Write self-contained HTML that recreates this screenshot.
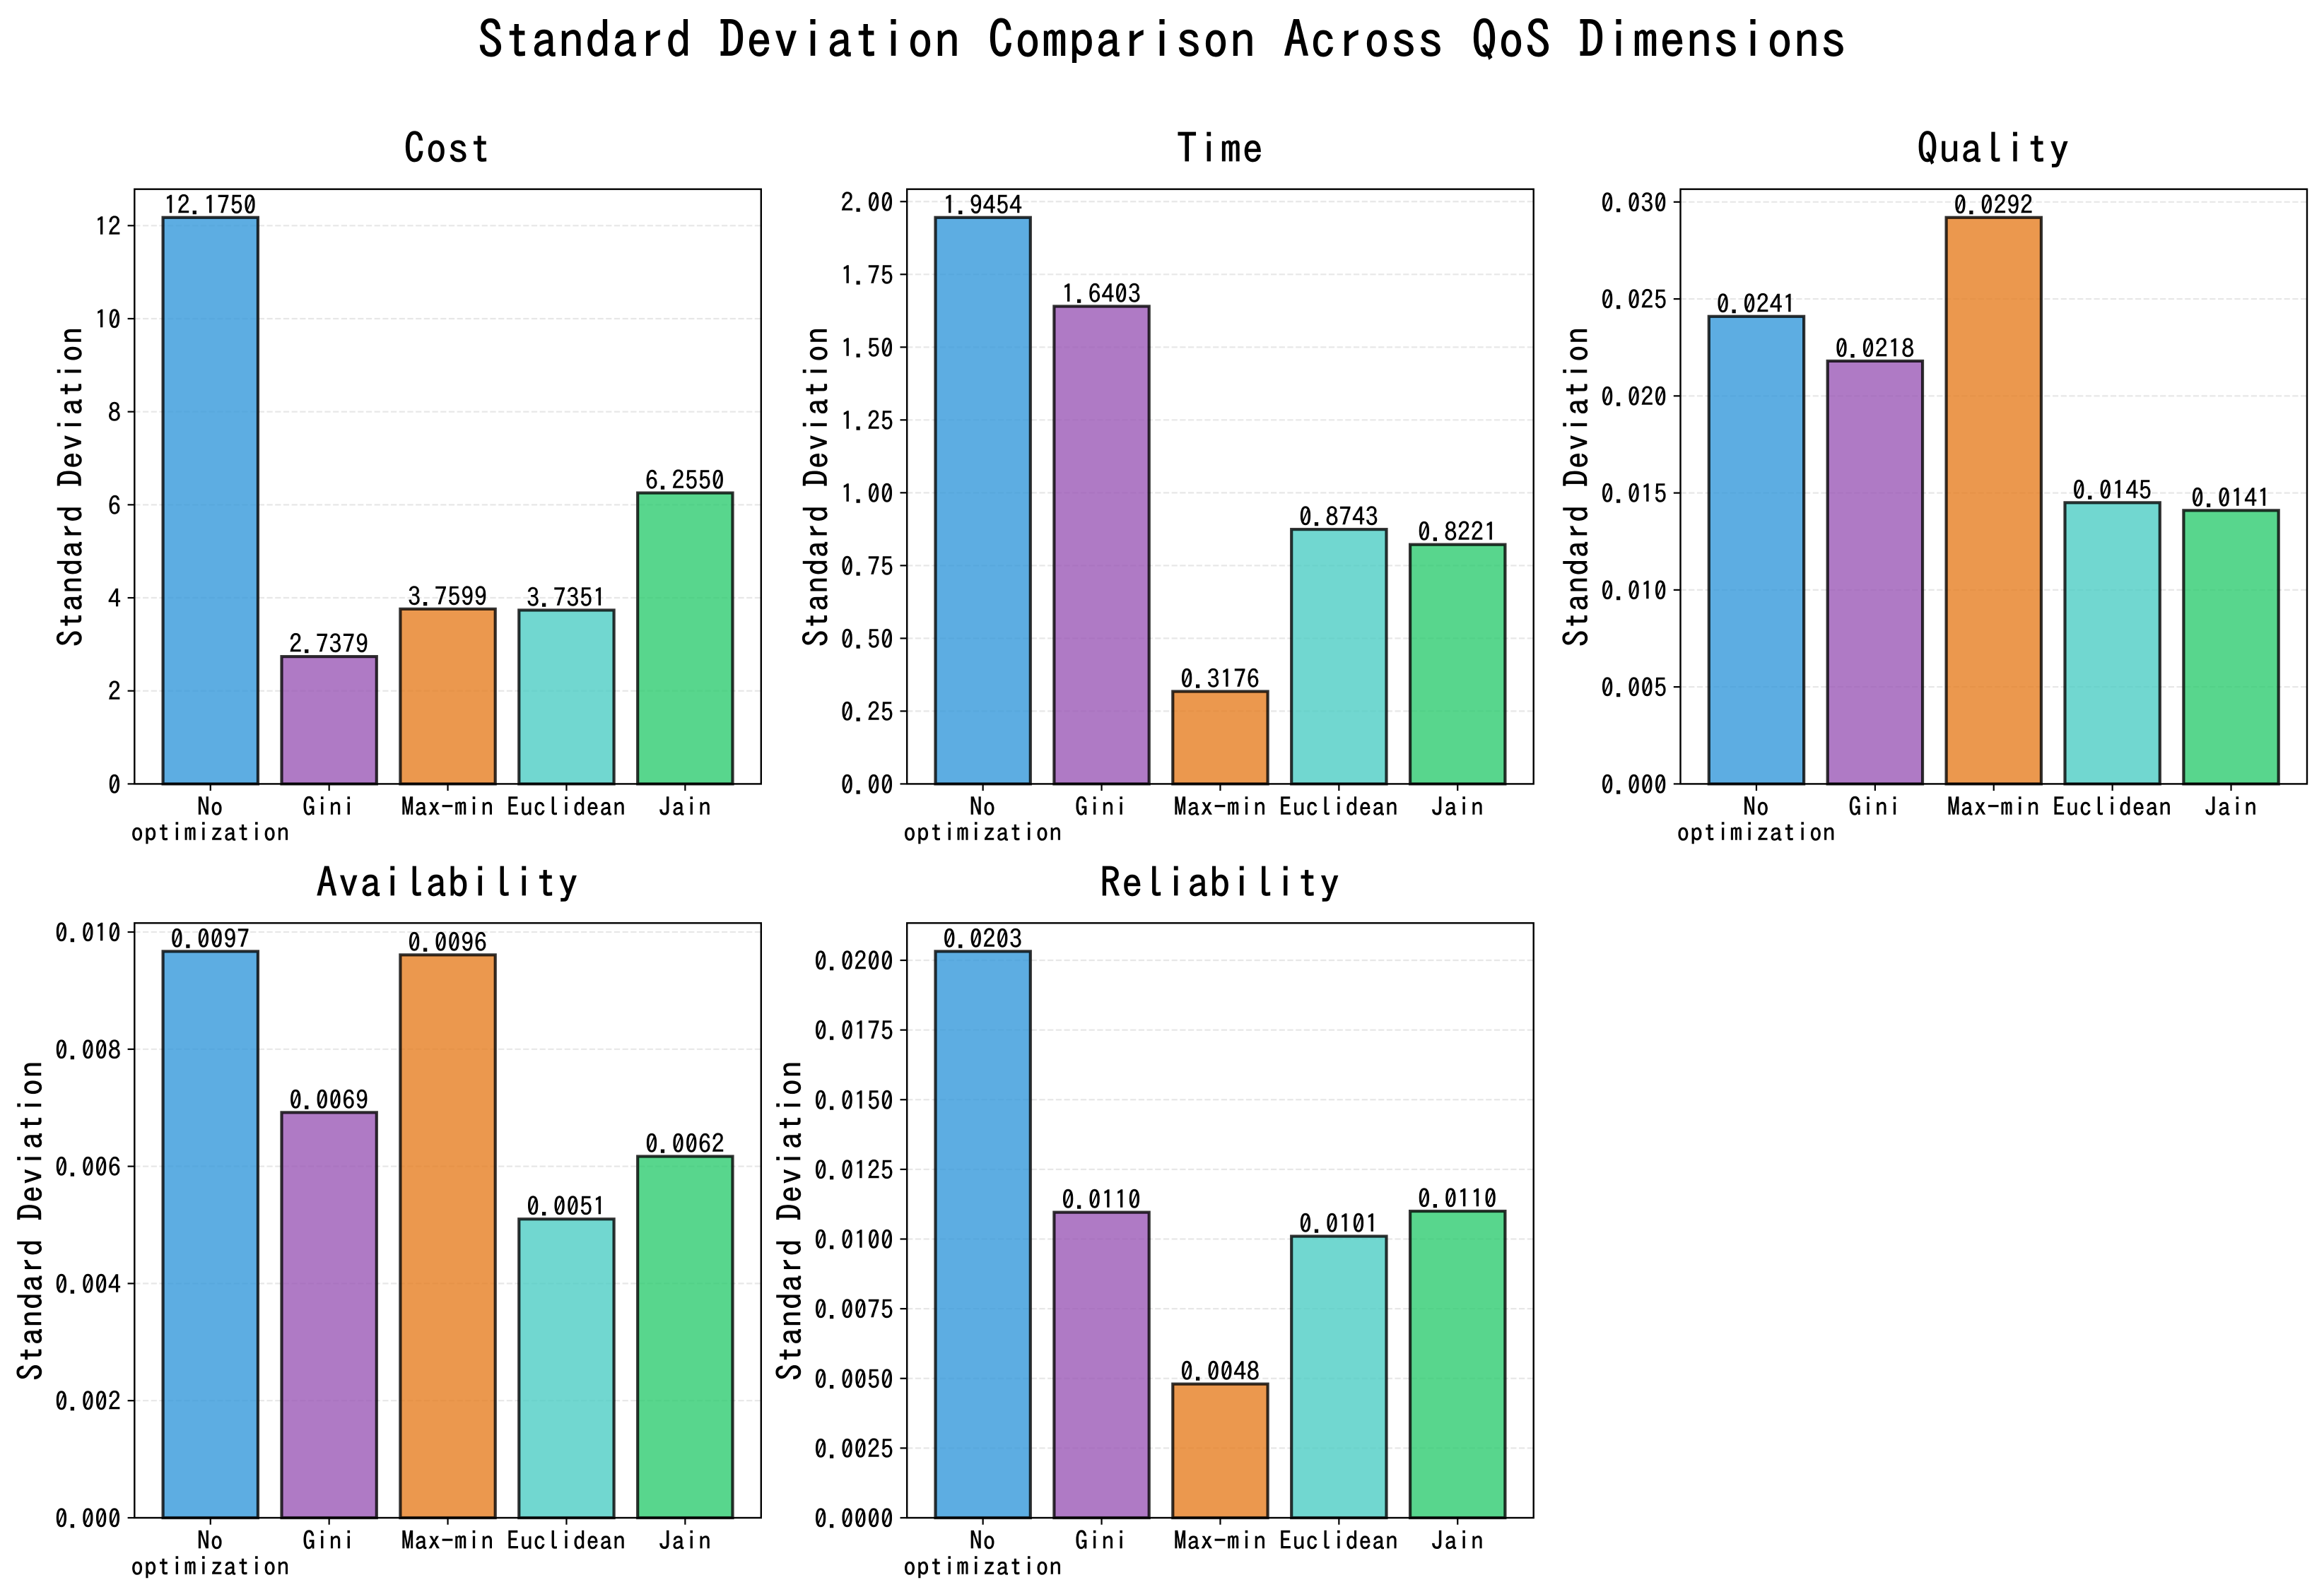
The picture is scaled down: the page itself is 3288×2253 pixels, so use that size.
<!DOCTYPE html>
<html lang="en">
<head>
<meta charset="utf-8">
<title>Standard Deviation Comparison Across QoS Dimensions</title>
<style>
html,body{margin:0;padding:0;background:#fff;}
svg{display:block;}
text{font-family:"IPAGothic","Liberation Mono","Noto Sans CJK SC",monospace;fill:#000;stroke:#000;stroke-width:0.5px;}
</style>
</head>
<body>
<svg id="chart" xmlns="http://www.w3.org/2000/svg" width="3288" height="2253" viewBox="0 0 3288 2253"></svg>
<script>
const categories = ["No optimization", "Gini", "Max-min", "Euclidean", "Jain"];
const barColors = ["#3498db", "#9b59b6", "#e67e22", "#4ecdc4", "#2ecc71"];

const costValues = [12.1750, 2.7379, 3.7599, 3.7351, 6.2550];
const timeValues = [1.9454, 1.6403, 0.3176, 0.8743, 0.8221];
const qualityValues = [0.0241, 0.0218, 0.0292, 0.0145, 0.0141];
const availabilityValues = [0.00967, 0.00692, 0.00961, 0.00510, 0.00617];
const reliabilityValues = [0.02032, 0.01096, 0.0048, 0.0101, 0.0110];

const costTicks = ["0", "2", "4", "6", "8", "10", "12"];
const timeTicks = ["0.00", "0.25", "0.50", "0.75", "1.00", "1.25", "1.50", "1.75", "2.00"];
const qualityTicks = ["0.000", "0.005", "0.010", "0.015", "0.020", "0.025", "0.030"];
const availabilityTicks = ["0.000", "0.002", "0.004", "0.006", "0.008", "0.010"];
const reliabilityTicks = ["0.0000", "0.0025", "0.0050", "0.0075", "0.0100", "0.0125", "0.0150", "0.0175", "0.0200"];

const panels = [
  {title: "Cost", slug: "cost", values: costValues, ticks: costTicks, col: 0, row: 0},
  {title: "Time", slug: "time", values: timeValues, ticks: timeTicks, col: 1, row: 0},
  {title: "Quality", slug: "quality", values: qualityValues, ticks: qualityTicks, col: 2, row: 0},
  {title: "Availability", slug: "availability", values: availabilityValues, ticks: availabilityTicks, col: 0, row: 1},
  {title: "Reliability", slug: "reliability", values: reliabilityValues, ticks: reliabilityTicks, col: 1, row: 1}
];

const colLeft = [190.3, 1283.2, 2377.5];
const rowTop = [267.7, 1306.3];
const axW = 886.5;
const axH = 841.7;
const NS = "http://www.w3.org/2000/svg";
const svg = document.getElementById("chart");

function mk(tag, parent, props) {
  const el = document.createElementNS(NS, tag);
  for (const k in props) el.setAttribute(k, props[k]);
  parent.appendChild(el);
  return el;
}

const figTitle = mk("text", svg, {x: 1645, y: 82, "text-anchor": "middle", "font-size": 72, "letter-spacing": 2, style: "stroke-width:0.9px"});
figTitle.textContent = "Standard Deviation Comparison Across QoS Dimensions";



panels.forEach(function (p) {
  const left = colLeft[p.col], top = rowTop[p.row], bottom = top + axH, right = left + axW;
  const maxValue = Math.max.apply(null, p.values);
  const yMax = maxValue * 1.05;
  const yScale = function (v) { return bottom - (v / yMax) * axH; };
  const xMin = -0.64, xMax = categories.length - 1 + 0.64;
  const xScale = function (i) { return left + ((i - xMin) / (xMax - xMin)) * axW; };

  const g = mk("g", svg, {});
  
  

  const bg = mk("rect", g, {x: left, y: top, width: axW, height: axH, fill: "#fff"});
  
  

  // grid lines
  p.ticks.forEach(function (t) {
    const y = yScale(parseFloat(t));
    if (parseFloat(t) === 0) return;
    const gl = mk("line", g, {x1: left, x2: right, y1: y, y2: y, stroke: "#b0b0b0", "stroke-opacity": 0.3, "stroke-width": 2.2, "stroke-dasharray": "8.2 3.5"});
    
    
  });

  // bars
  const halfBar = 0.4 * (axW / (xMax - xMin));
  p.values.forEach(function (v, i) {
    const cx = xScale(i), yTop = yScale(v);
    const bar = mk("rect", g, {
      x: cx - halfBar, y: yTop, width: halfBar * 2, height: bottom - yTop,
      fill: barColors[i], "fill-opacity": 0.8,
      stroke: "#000", "stroke-opacity": 0.8, "stroke-width": 4.2
    });
    
    
  });

  // spines
  const frame = mk("rect", g, {x: left, y: top, width: axW, height: axH, fill: "none", stroke: "#000", "stroke-width": 2.4});
  
  

  // value labels
  p.values.forEach(function (v, i) {
    const lab = mk("text", g, {x: xScale(i), y: yScale(v) - 5, "text-anchor": "middle", "font-size": 35.5, "letter-spacing": 1});
    lab.textContent = v.toFixed(4);
    
    
  });

  // y ticks
  let maxLen = 0;
  p.ticks.forEach(function (t) {
    const y = yScale(parseFloat(t));
    maxLen = Math.max(maxLen, t.length);
    const tk = mk("line", g, {x1: left - 9.7, x2: left, y1: y, y2: y, stroke: "#000", "stroke-width": 2.2});
    
    
    const tl = mk("text", g, {x: left - 18.5, y: y + 14, "text-anchor": "end", "font-size": 35.5, "letter-spacing": 1});
    tl.textContent = t;
    
    
  });

  // x ticks
  categories.forEach(function (c, i) {
    const x = xScale(i);
    const tk = mk("line", g, {x1: x, x2: x, y1: bottom, y2: bottom + 9.7, stroke: "#000", "stroke-width": 2.2});
    
    
    const tl = mk("text", g, {"text-anchor": "middle", "font-size": 35.5, "letter-spacing": 1});
    
    
    c.split(" ").forEach(function (part, n) {
      const sp = mk("tspan", tl, {x: x, y: bottom + 45 + n * 36.3});
      sp.textContent = part;
    });
  });

  // y label
  const ylx = left - 19 - maxLen * 18.75 - 17;
  const ycy = top + axH / 2;
  const yl = mk("text", g, {x: ylx, y: ycy, "text-anchor": "middle", "font-size": 48, "letter-spacing": 1.2, transform: "rotate(-90 " + ylx + " " + ycy + ")"});
  yl.textContent = "Standard Deviation";
  
  

  // panel title
  const ttl = mk("text", g, {x: left + axW / 2, y: top - 36.5, "text-anchor": "middle", "font-size": 59, "letter-spacing": 1.5, style: "stroke-width:0.7px"});
  ttl.textContent = p.title;
  
  
});
</script>
</body>
</html>
